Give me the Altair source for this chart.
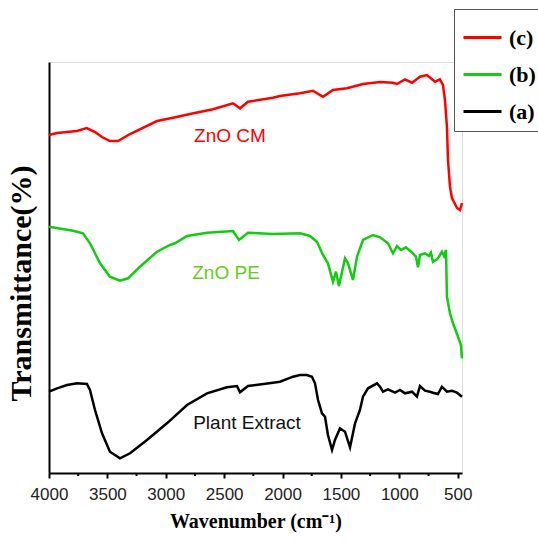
import altair as alt
import pandas as pd

# ---- data (wavenumber cm-1, relative transmittance) ----
wn_c = [4000, 3931, 3846, 3760, 3677, 3606, 3546, 3478, 3409, 3306, 3075, 2938, 2793, 2596,
        2424, 2364, 2296, 2082, 2022, 1851, 1739, 1654, 1568, 1448, 1311, 1165, 1054, 1020,
        951, 891, 823, 763, 694, 652, 626, 609, 592, 583, 566, 549, 506, 480, 463]
t_c = [338, 340, 341, 342, 345, 341, 336, 332, 332, 339, 352, 355.3, 359, 363.7,
       369.7, 364.7, 371.3, 375.3, 377, 379.7, 382.3, 376.3, 383, 384.7, 389, 391, 390.3, 389,
       393.7, 390.3, 396.3, 398, 391.3, 393.7, 388, 373, 346.3, 313, 286.3, 275, 265, 263, 270]

wn_b = [4000, 3794, 3709, 3649, 3563, 3478, 3392, 3323, 3221, 3075, 2964, 2921, 2818, 2647,
        2424, 2373, 2296, 2082, 1851, 1765, 1705, 1654, 1611, 1568, 1542, 1517, 1465, 1439,
        1397, 1362, 1311, 1225, 1165, 1097, 1054, 1020, 986, 943, 900, 857, 840, 823, 780,
        746, 729, 712, 677, 660, 635, 617, 600, 592, 566, 540, 497, 472, 463]
t_b = [246.3, 242.3, 239.7, 229.7, 209.7, 196.3, 192.3, 194.7, 206.3, 221.3, 228, 229.7, 237, 240.3,
       242, 233, 240.3, 239, 239.7, 237, 231.3, 218, 209.7, 191.3, 201.3, 187, 214.7, 209.7,
       193, 216.3, 233, 238, 235.7, 229.7, 219.7, 227, 223, 225.7, 221.3, 216.3, 205.7, 218, 219.7,
       217, 220.3, 211.3, 213.7, 216.3, 221.3, 217, 223, 176.3, 159.7, 149.7, 136.3, 128, 114.7]

wn_a = [4000, 3931, 3846, 3760, 3675, 3649, 3606, 3546, 3478, 3392, 3306, 3161, 2990, 2818,
        2647, 2476, 2390, 2364, 2296, 2082, 2022, 1910, 1851, 1791, 1748, 1722, 1696, 1662,
        1636, 1611, 1576, 1551, 1508, 1465, 1422, 1379, 1337, 1311, 1268, 1191, 1165, 1140,
        1097, 1037, 994, 951, 891, 849, 823, 780, 737, 712, 669, 635, 592, 549, 506, 463]
t_a = [81.3, 84.7, 88, 89.7, 89, 83, 63, 39.7, 21.3, 14.7, 19.7, 33, 49.7, 68,
       79.7, 85.7, 87, 80.7, 87, 90.3, 91.3, 96.3, 98, 98, 96.3, 89.7, 73, 59.7,
       56.3, 38, 23, 33, 44.7, 41.3, 25.7, 49.7, 63, 76.3, 84.7, 89.7, 86.3, 81.3,
       83.7, 80.3, 83, 79.7, 81.3, 76.3, 87, 82.3, 81.3, 80.3, 79, 86.3, 81.3, 82.3, 80.3, 76.3]

series_names = ["(c)", "(b)", "(a)"]
series_colors = ["#ff0000", "#11cc11", "#000000"]

label_text = ["ZnO CM", "ZnO PE", "Plant Extract"]
label_wn = [2450, 2484, 2304]
label_t = [337, 200.5, 50]
label_color = ["#ff0000", "#66cc22", "#111111"]

major_ticks = [4000, 3500, 3000, 2500, 2000, 1500, 1000, 500]
minor_ticks = [3750, 3250, 2750, 2250, 1750, 1250, 750]

# ---- tables ----
rows = []
for name, xs, ys in [("(c)", wn_c, t_c), ("(b)", wn_b, t_b), ("(a)", wn_a, t_a)]:
    for x, y in zip(xs, ys):
        rows.append({"wn": x, "t": y, "series": name})
df = pd.DataFrame(rows)
df_lab = pd.DataFrame({"wn": label_wn, "t": label_t, "text": label_text, "col": label_color})
df_minor = pd.DataFrame({"wn": minor_ticks})

W, H = 413, 411
xscale = alt.Scale(domain=[463, 4000], reverse=True, nice=False, zero=False)
yscale = alt.Scale(domain=[0, 411], nice=False, zero=False)

xaxis = alt.Axis(values=major_ticks, title="Wavenumber (cm⁻¹)", format="d",
                 labelFont="Liberation Sans", labelFontSize=17, labelColor="#222222",
                 labelPadding=8, tickSize=5, tickWidth=2, tickColor="black",
                 domainColor="black", domainWidth=2, grid=False, labelFlush=False,
                 titleFont="Liberation Serif", titleFontSize=20, titleFontWeight="bold",
                 titleColor="black", titlePadding=9)
yaxis = alt.Axis(title="Transmittance(%)", labels=False, ticks=False, grid=False,
                 domainColor="black", domainWidth=2,
                 titleFont="Liberation Serif", titleFontSize=30, titleFontWeight="bold",
                 titleColor="black", titlePadding=13, titleY=221)

lines = alt.Chart(df).mark_line(strokeWidth=2.5).encode(
    x=alt.X("wn:Q", scale=xscale, axis=xaxis),
    y=alt.Y("t:Q", scale=yscale, axis=yaxis),
    color=alt.Color("series:N",
                    scale=alt.Scale(domain=series_names, range=series_colors),
                    legend=alt.Legend(orient="none", legendX=405, legendY=-53, title=None,
                                      symbolType="stroke", symbolSize=1444, symbolStrokeWidth=3,
                                      labelFont="Liberation Serif", labelFontSize=22,
                                      labelFontWeight="bold", labelColor="black",
                                      fillColor="white", strokeColor="#555555",
                                      padding=8, rowPadding=5, labelOffset=6)),
    detail="series:N",
)

texts = alt.Chart(df_lab).mark_text(font="Liberation Sans", fontSize=19, align="center",
                                   baseline="middle").encode(
    x=alt.X("wn:Q", scale=xscale),
    y=alt.Y("t:Q", scale=yscale),
    text="text:N",
    color=alt.Color("col:N", scale=None),
)

minor = alt.Chart(df_minor).mark_rule(color="black", strokeWidth=2).encode(
    x=alt.X("wn:Q", scale=xscale),
    y=alt.value(H),
    y2=alt.value(H + 3),
)

chart = alt.layer(lines, texts, minor).properties(
    width=W, height=H,
    autosize=alt.AutoSizeParams(type="none"),
    padding={"left": 49, "top": 62, "right": 76, "bottom": 72},
).configure_view(stroke=None).configure(background="white")

chart.save("out.html", embed_options={"renderer": "svg", "actions": False})
